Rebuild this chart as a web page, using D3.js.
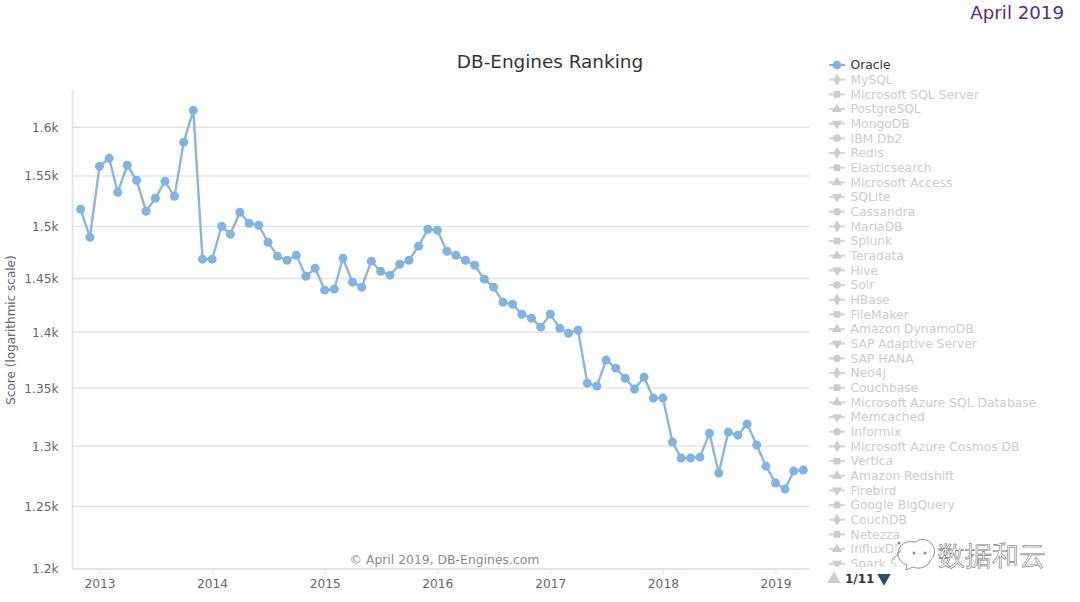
<!DOCTYPE html>
<html>
<head>
<meta charset="utf-8">
<script src="https://cdnjs.cloudflare.com/ajax/libs/d3/7.8.5/d3.min.js"></script>
<style>
  html, body { margin: 0; padding: 0; background: #fff; overflow: hidden; }
  text { font-family: "DejaVu Sans", sans-serif; }
</style>
</head>
<body>
<div id="viz"></div>
<script>
// Oracle score, monthly, Nov 2012 to Apr 2019
const scores = [
  1516.8, 1489.4,
  1559.9, 1568.0, 1533.7, 1560.9, 1545.7, 1514.9, 1527.7, 1544.7, 1529.7, 1584.5, 1617.8, 1468.3,
  1468.3, 1500.1, 1492.4, 1513.9, 1503.1, 1501.1, 1484.6, 1471.2, 1467.3, 1472.1, 1452.1, 1459.7,
  1439.0, 1439.9, 1469.2, 1446.5, 1441.8, 1466.4, 1456.8, 1453.1, 1463.5, 1467.3, 1480.8, 1497.2,
  1496.3, 1475.9, 1472.1, 1467.3, 1462.5, 1449.3, 1441.8, 1427.7, 1425.9, 1416.6, 1413.0, 1404.7,
  1416.6, 1403.8, 1399.2, 1402.0, 1354.4, 1351.8, 1374.9, 1367.7, 1358.8, 1349.2, 1359.7, 1341.3,
  1341.3, 1303.4, 1289.9, 1289.9, 1290.7, 1311.0, 1277.4, 1311.9, 1309.3, 1318.8, 1300.9, 1283.2,
  1269.1, 1264.1, 1279.0, 1279.9
];
const yTicks = [1200, 1250, 1300, 1350, 1400, 1450, 1500, 1550, 1600];
const yTickLabels = ['1.2k', '1.25k', '1.3k', '1.35k', '1.4k', '1.45k', '1.5k', '1.55k', '1.6k'];
const xYears = [2013, 2014, 2015, 2016, 2017, 2018, 2019];
const systems = [
  'Oracle', 'MySQL', 'Microsoft SQL Server', 'PostgreSQL', 'MongoDB', 'IBM Db2', 'Redis',
  'Elasticsearch', 'Microsoft Access', 'SQLite', 'Cassandra', 'MariaDB', 'Splunk', 'Teradata',
  'Hive', 'Solr', 'HBase', 'FileMaker', 'Amazon DynamoDB', 'SAP Adaptive Server', 'SAP HANA',
  'Neo4j', 'Couchbase', 'Microsoft Azure SQL Database', 'Memcached', 'Informix',
  'Microsoft Azure Cosmos DB', 'Vertica', 'Amazon Redshift', 'Firebird', 'Google BigQuery',
  'CouchDB', 'Netezza', 'InfluxDB', 'Spark SQL'
];

const months = scores.map((d, i) => new Date(Date.UTC(2012, 10 + i, 1)));
const BLUE = '#7fb3e0';
const GRID = '#e3e3e3';
const LEFT = 72.5, RIGHT = 809.5, TOP = 90, BOTTOM = 569;

const svg = d3.select('#viz').append('svg')
  .attr('width', 1080)
  .attr('height', 602);

const x = d3.scaleUtc()
  .domain([new Date(Date.UTC(2013, 0, 1)), new Date(Date.UTC(2019, 0, 1))])
  .range([99.5, 775.5]);
const y = d3.scaleLog()
  .domain([1200, 1600])
  .range([BOTTOM, 127.3]);

svg.append('text')
  .attr('x', 1064).attr('y', 19)
  .attr('text-anchor', 'end')
  .attr('font-size', 18.2)
  .attr('fill', '#5b2a86')
  .text('April 2019');

svg.append('text')
  .attr('x', 550).attr('y', 67.5)
  .attr('text-anchor', 'middle')
  .attr('font-size', 18.4)
  .attr('fill', '#333')
  .text('DB-Engines Ranking');

// grid
svg.append('g').selectAll('line')
  .data(yTicks.slice(1))
  .join('line')
    .attr('x1', LEFT).attr('x2', RIGHT)
    .attr('y1', d => y(d)).attr('y2', d => y(d))
    .attr('stroke', GRID)
    .attr('stroke-width', 1.4);

// y axis
const yAxis = svg.append('g')
  .attr('transform', `translate(${LEFT},0)`)
  .call(d3.axisLeft(y)
    .tickValues(yTicks)
    .tickFormat((d, i) => yTickLabels[i])
    .tickSize(0)
    .tickPadding(14));
yAxis.select('.domain').remove();
yAxis.selectAll('text')
  .attr('font-size', 12.2)
  .attr('font-family', '"DejaVu Sans", sans-serif')
  .attr('fill', '#666');

// x axis
const xAxis = svg.append('g')
  .attr('transform', `translate(0,${BOTTOM})`)
  .call(d3.axisBottom(x)
    .tickValues(xYears.map(d => new Date(Date.UTC(d, 0, 1))))
    .tickFormat(d3.utcFormat('%Y'))
    .tickSize(5)
    .tickPadding(5));
xAxis.select('.domain').remove();
xAxis.selectAll('line').attr('stroke', GRID);
xAxis.selectAll('text')
  .attr('font-size', 12.2)
  .attr('font-family', '"DejaVu Sans", sans-serif')
  .attr('fill', '#666');

svg.append('line')
  .attr('x1', LEFT).attr('x2', LEFT)
  .attr('y1', TOP).attr('y2', BOTTOM)
  .attr('stroke', GRID).attr('stroke-width', 1.8);
svg.append('line')
  .attr('x1', LEFT).attr('x2', RIGHT)
  .attr('y1', BOTTOM).attr('y2', BOTTOM)
  .attr('stroke', GRID).attr('stroke-width', 1.8);

svg.append('text')
  .attr('transform', 'translate(15,330) rotate(-90)')
  .attr('text-anchor', 'middle')
  .attr('font-size', 12)
  .attr('fill', '#666')
  .text('Score (logarithmic scale)');

// series
const line = d3.line()
  .x((d, i) => x(months[i]))
  .y(d => y(d));

svg.append('path')
  .datum(scores)
  .attr('fill', 'none')
  .attr('stroke', '#8db4d9')
  .attr('stroke-width', 2.4)
  .attr('d', line);

svg.append('g').selectAll('circle')
  .data(scores)
  .join('circle')
    .attr('cx', (d, i) => x(months[i]))
    .attr('cy', d => y(d))
    .attr('r', 4.5)
    .attr('fill', BLUE);

svg.append('text')
  .attr('x', 444.5).attr('y', 563.5)
  .attr('text-anchor', 'middle')
  .attr('font-size', 12.4)
  .attr('fill', '#8c8c8c')
  .text('\u00a9 April 2019, DB-Engines.com');

// legend, clipped at the bottom like the paged legend
svg.append('clipPath').attr('id', 'legendClip')
  .append('rect')
    .attr('x', 820).attr('y', 55)
    .attr('width', 260).attr('height', 512);

const symbols = [d3.symbolCircle, d3.symbolDiamond, d3.symbolSquare, d3.symbolTriangle, d3.symbolTriangle];
const legendY = d3.scaleLinear().domain([0, 1]).range([65, 79.67]);

const legend = svg.append('g').attr('clip-path', 'url(#legendClip)');
const rows = legend.selectAll('g')
  .data(systems)
  .join('g')
    .attr('transform', (d, i) => `translate(837,${legendY(i)})`);

rows.append('line')
  .attr('x1', -8).attr('x2', 8)
  .attr('stroke', (d, i) => i === 0 ? BLUE : '#d6d6d6')
  .attr('stroke-width', 2);

rows.append('path')
  .attr('d', (d, i) => d3.symbol().type(symbols[i % 5]).size(i === 0 ? 60 : 44)())
  .attr('transform', (d, i) => i % 5 === 4 ? 'rotate(180)' : null)
  .attr('fill', (d, i) => i === 0 ? BLUE : '#ccc');

rows.append('text')
  .attr('x', 13.5)
  .attr('y', 4.3)
  .attr('font-size', 12.3)
  .attr('fill', (d, i) => i === 0 ? '#333' : '#ccc')
  .text(d => d);

// legend pager
svg.append('path')
  .attr('d', d3.symbol().type(d3.symbolTriangle).size(80)())
  .attr('transform', 'translate(834,579)')
  .attr('fill', '#ccc');
svg.append('text')
  .attr('x', 845).attr('y', 583)
  .attr('font-size', 12)
  .attr('font-weight', 'bold')
  .attr('fill', '#333')
  .text('1/11');
svg.append('path')
  .attr('d', d3.symbol().type(d3.symbolTriangle).size(80)())
  .attr('transform', 'translate(884,578) rotate(180)')
  .attr('fill', '#2f4f6f');

// watermark
const mark = svg.append('g');
mark.append('rect')
  .attr('x', 895).attr('y', 541).attr('width', 155).attr('height', 30)
  .attr('rx', 10)
  .attr('fill', '#fff').attr('fill-opacity', 0.75);
mark.append('path')
  .attr('d', 'M915 542 a13 12 0 1 0 -8 23 l-1 5 l7 -3 a12 10 0 0 0 17 -6 a12 12 0 0 0 -15 -19')
  .attr('fill', '#fff')
  .attr('stroke', '#777')
  .attr('stroke-width', 0.8);
mark.append('path')
  .attr('d', 'M901 550 q-4 7 -9 9')
  .attr('fill', 'none')
  .attr('stroke', '#888')
  .attr('stroke-width', 1);
mark.selectAll('circle')
  .data([[899, 543], [914, 553], [925, 553]])
  .join('circle')
    .attr('cx', d => d[0])
    .attr('cy', d => d[1])
    .attr('r', 1.5)
    .attr('fill', '#888');
mark.append('text')
  .attr('x', 938).attr('y', 564.5)
  .attr('font-size', 26.7)
  .attr('font-family', '"Noto Sans CJK SC", sans-serif')
  .attr('fill', '#fff')
  .attr('stroke', '#777')
  .attr('stroke-width', 0.6)
  .text('数据和云');
</script>
</body>
</html>
